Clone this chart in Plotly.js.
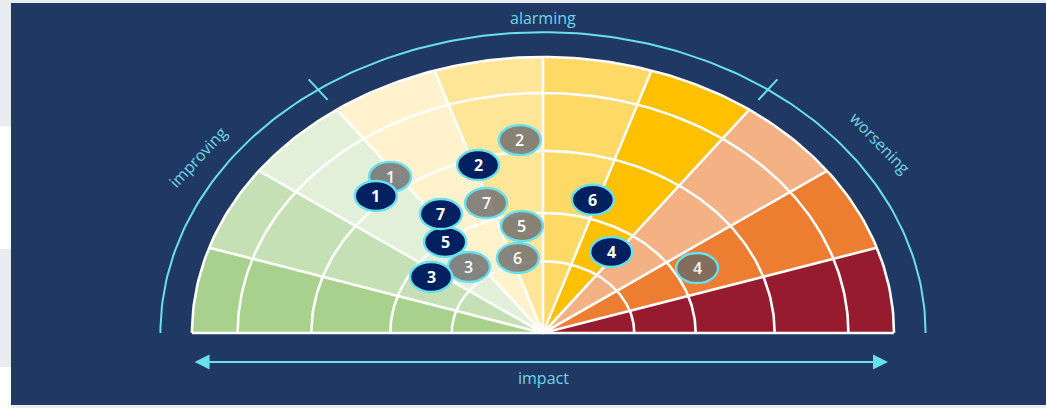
<!DOCTYPE html>
<html>
<head>
<meta charset="utf-8">
<script src="https://cdn.plot.ly/plotly-3.0.1.min.js"></script>
<style>
  html, body { margin: 0; padding: 0; background: #E9ECF0; }
  #chart { width: 1046px; height: 408px; }
</style>
</head>
<body>
<div id="chart"></div>
<script>
// ---------------- DATA ----------------
// Sector boundaries in degrees (0 = right / worsening, 180 = left / improving)
const sectorEdges = [0, 18, 36, 54, 72, 90, 108, 126, 144, 162, 180];
// Ring boundaries (fraction of outer radius)
const ringRadii = [0.26, 0.435, 0.66, 0.87, 1.0];
// Zone dividers on the outer arc (degrees)
const zoneDividers = [54, 126];
const zoneLabels = ['worsening', 'alarming', 'improving'];
const axisLabel = 'impact';

// Items: number labels, current and previous positions (angle in degrees, radius as fraction)
const itemIds = ['1', '2', '3', '4', '5', '6', '7'];
const currentAngle  = [133.8, 106.9, 147.5, 56.5, 130.2, 73.6, 124.0];
const currentRadius = [0.688, 0.636, 0.378, 0.352, 0.432, 0.503, 0.520];
const previousAngle  = [127.6, 95.4, 131.4, 28.2, 98.8, 104.7, 109.0];
const previousRadius = [0.714, 0.702, 0.319, 0.498, 0.392, 0.281, 0.498];

// ---------------- STYLE ----------------
const sectorColors = ['#971B2F', '#ED7D31', '#F4B183', '#FFC000', '#FFD966',
                      '#FFE699', '#FFF2CC', '#E2F0D9', '#C5E0B4', '#A9D18E'];
const navy = '#203864';
const cyan = '#68E0EE';
const textCyan = '#72D6E6';
const FONT = 'Open Sans, Noto Sans, sans-serif';
const OUTER_ARC = 1.09;

function pt(r, deg) {
  const t = deg * Math.PI / 180;
  return [r * Math.cos(t), r * Math.sin(t)];
}

const traces = [];

// sector fills
for (let i = 0; i < sectorColors.length; i++) {
  const a0 = sectorEdges[i], a1 = sectorEdges[i + 1];
  const xs = [0], ys = [0];
  for (let k = 0; k <= 30; k++) {
    const p = pt(1, a0 + (a1 - a0) * k / 30);
    xs.push(p[0]); ys.push(p[1]);
  }
  xs.push(0); ys.push(0);
  traces.push({type: 'scatter', mode: 'lines', x: xs, y: ys, fill: 'toself',
    fillcolor: sectorColors[i], line: {width: 0, color: sectorColors[i]},
    hoverinfo: 'skip', showlegend: false});
}

// white grid: ring arcs + spokes
{
  const xs = [], ys = [];
  ringRadii.forEach(r => {
    for (let a = 0; a <= 180; a += 1) { const p = pt(r, a); xs.push(p[0]); ys.push(p[1]); }
    xs.push(null); ys.push(null);
  });
  sectorEdges.forEach(a => {
    const p = pt(1, a);
    xs.push(0, p[0], null); ys.push(0, p[1], null);
  });
  traces.push({type: 'scatter', mode: 'lines', x: xs, y: ys,
    line: {color: '#FFFFFF', width: 2.6}, hoverinfo: 'skip', showlegend: false});
}

// outer cyan arc with zone dividers
{
  const xs = [], ys = [];
  for (let a = 0; a <= 180; a += 1) { const p = pt(OUTER_ARC, a); xs.push(p[0]); ys.push(p[1]); }
  xs.push(null); ys.push(null);
  zoneDividers.forEach(a => {
    const p0 = pt(1.044, a), p1 = pt(1.136, a);
    xs.push(p0[0], p1[0], null); ys.push(p0[1], p1[1], null);
  });
  traces.push({type: 'scatter', mode: 'lines', x: xs, y: ys,
    line: {color: cyan, width: 2}, hoverinfo: 'skip', showlegend: false});
}

// ---------------- SHAPES ----------------
const shapes = [
  // navy panel
  {type: 'rect', xref: 'paper', yref: 'paper', x0: 0.0105, x1: 1, y0: 0.0074, y1: 0.9926,
   fillcolor: navy, line: {width: 0}, layer: 'below'},
  {type: 'rect', xref: 'paper', yref: 'paper', x0: 0, x1: 0.0105, y0: 0.39, y1: 0.69,
   fillcolor: '#FFFFFF', line: {width: 0}, layer: 'below'},
  {type: 'rect', xref: 'paper', yref: 'paper', x0: 0, x1: 0.0105, y0: 0, y1: 0.1,
   fillcolor: '#FFFFFF', line: {width: 0}, layer: 'below'}
];
const annotations = [];

function marker(angle, radius, label, fill, bold) {
  const p = pt(radius, angle);
  shapes.push({
    type: 'circle', xref: 'x', yref: 'y', xsizemode: 'pixel', ysizemode: 'pixel',
    xanchor: p[0], yanchor: p[1], x0: -21, x1: 21, y0: -15, y1: 15,
    fillcolor: fill, line: {color: cyan, width: 2.4}, layer: 'above'
  });
  annotations.push({
    x: p[0], y: p[1], xref: 'x', yref: 'y', showarrow: false,
    text: bold ? '<b>' + label + '</b>' : label, xanchor: 'center', yanchor: 'middle',
    font: {color: '#FFFFFF', size: 16, family: FONT, weight: bold ? 700 : 600}
  });
}
itemIds.forEach((id, i) => marker(previousAngle[i], previousRadius[i], id, 'rgba(105,105,105,0.8)', false));
itemIds.forEach((id, i) => marker(currentAngle[i], currentRadius[i], id, '#002060', true));

// ---------------- TEXT ----------------
annotations.push(
  {x: 0, y: 1.141, text: zoneLabels[1], showarrow: false, xanchor: 'center', yanchor: 'middle',
   font: {color: textCyan, size: 16, family: FONT}},
  {x: -0.983, y: 0.638, text: zoneLabels[2], showarrow: false, textangle: -47,
   font: {color: textCyan, size: 16, family: FONT}},
  {x: 0.960, y: 0.688, text: zoneLabels[0], showarrow: false, textangle: 46,
   font: {color: textCyan, size: 16, family: FONT}},
  {x: 0, y: -0.163, text: axisLabel, showarrow: false, yanchor: 'middle',
   font: {color: textCyan, size: 16, family: FONT}},
  {x: 0.983, y: -0.105, ax: -0.997, ay: -0.105, xref: 'x', yref: 'y', axref: 'x', ayref: 'y',
   text: '', showarrow: true, arrowside: 'end+start', arrowhead: 2, arrowsize: 1.5,
   arrowwidth: 2, arrowcolor: cyan, standoff: 0, startstandoff: 0, startarrowhead: 2, startarrowsize: 1.5}
);

const layout = {
  width: 1046, height: 408,
  margin: {l: 0, r: 0, t: 0, b: 0},
  paper_bgcolor: '#E9ECF0', plot_bgcolor: 'rgba(0,0,0,0)',
  xaxis: {range: [-543 / 351, 503 / 351], visible: false, fixedrange: true},
  yaxis: {range: [-75 / 276, 333 / 276], visible: false, fixedrange: true},
  showlegend: false, shapes, annotations
};

Plotly.newPlot('chart', traces, layout, {staticPlot: true, displayModeBar: false});
</script>
</body>
</html>
